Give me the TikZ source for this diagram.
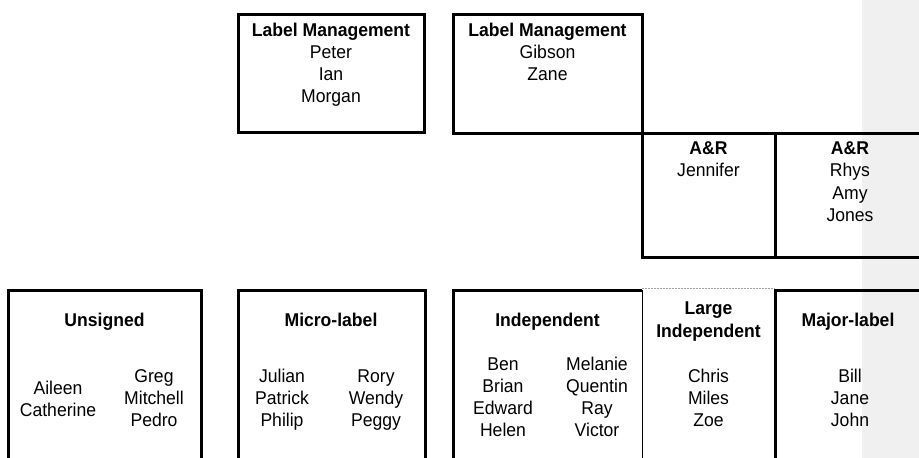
\documentclass[tikz,border=0pt]{standalone}
\usepackage{fontspec}
\setmainfont{Liberation Sans}[FakeStretch=0.95]
\definecolor{bandgray}{HTML}{F0F0F0}
\definecolor{dotgray}{HTML}{A0A0A0}
\begin{document}
\begin{tikzpicture}[x=1pt,y=-1pt,
  cell/.style={line width=3pt,draw=black,line join=miter},
  thinrule/.style={line width=1pt,draw=black},
  dotrule/.style={line width=1pt,draw=dotgray,dash pattern=on 2pt off 1pt},
  txt/.style={anchor=base,inner sep=0pt,font=\fontsize{18.5}{22}\selectfont},
  head/.style={txt,font=\fontsize{18.5}{22}\selectfont\bfseries}]
\useasboundingbox (0,0) rectangle (919,458);
% shaded margin strip on the right
\fill[bandgray] (862,0) rectangle (919,458);

% ---- upper cells ----
\draw[cell] (238,14) rectangle (424,132.5);
\draw[cell] (453,14) rectangle (642,133);
\draw[cell] (642,133) rectangle (921,257);
\draw[cell] (775,133) -- (775,257);

\node[head] (lmA) at (331,36.5) {Label Management};
\foreach \n/\y in {Peter/58.5,Ian/80.5,Morgan/102.5}
  \node[txt] (lmA-\n) at (331,\y) {\n};

\node[head] (lmB) at (547.5,36.5) {Label Management};
\foreach \n/\y in {Gibson/58.5,Zane/80.5}
  \node[txt] (lmB-\n) at (547.5,\y) {\n};

\node[head] (arA) at (708.5,154.5) {A\&R};
\node[txt] (arA-Jennifer) at (708.5,176.5) {Jennifer};

\node[head] (arB) at (850,154.5) {A\&R};
\foreach \n/\y in {Rhys/176.5,Amy/199,Jones/221.5}
  \node[txt] (arB-\n) at (850,\y) {\n};

% ---- lower cells (open at the bottom) ----
\draw[cell] (8,460) -- (8,290) -- (201,290) -- (201,460);
\draw[cell] (238,460) -- (238,290) -- (425,290) -- (425,460);
\draw[cell] (453,460) -- (453,290) -- (642,290);
\draw[thinrule] (642,290) -- (642,460);
\draw[dotrule] (642,288) -- (775,288);
\draw[cell] (775,460) -- (775,290) -- (921,290);

\node[head] (uns) at (104.5,326.5) {Unsigned};
\foreach \n/\y in {Aileen/394.5,Catherine/416.5}
  \node[txt] (uns-\n) at (58,\y) {\n};
\foreach \n/\y in {Greg/382.5,Mitchell/404.5,Pedro/426.5}
  \node[txt] (uns-\n) at (154,\y) {\n};

\node[head] (mic) at (331,326.5) {Micro-label};
\foreach \n/\y in {Julian/382.5,Patrick/404.5,Philip/426.5}
  \node[txt] (mic-\n) at (282,\y) {\n};
\foreach \n/\y in {Rory/382.5,Wendy/404.5,Peggy/426.5}
  \node[txt] (mic-\n) at (376,\y) {\n};

\node[head] (ind) at (547.5,326.5) {Independent};
\foreach \n/\y in {Ben/370.5,Brian/392.5,Edward/414.5,Helen/436.5}
  \node[txt] (ind-\n) at (503,\y) {\n};
\foreach \n/\y in {Melanie/370.5,Quentin/392.5,Ray/414.5,Victor/436.5}
  \node[txt] (ind-\n) at (597,\y) {\n};

\node[head] (lrgA) at (708.5,314.5) {Large};
\node[head] (lrgB) at (708.5,337.5) {Independent};
\foreach \n/\y in {Chris/382.5,Miles/404.5,Zoe/426.5}
  \node[txt] (lrg-\n) at (708.5,\y) {\n};

\node[head] (maj) at (848,326.5) {Major-label};
\foreach \n/\y in {Bill/382.5,Jane/404.5,John/426.5}
  \node[txt] (maj-\n) at (850,\y) {\n};
\end{tikzpicture}
\end{document}
